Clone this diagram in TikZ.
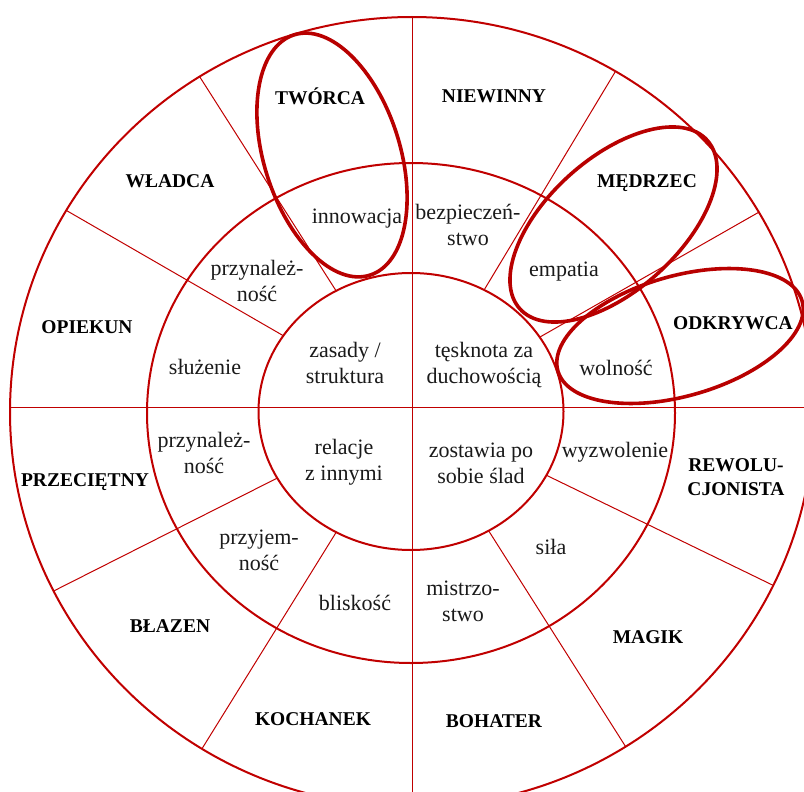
\documentclass[tikz,border=0pt]{standalone}
\usepackage{fontspec}
\setmainfont{Liberation Serif}
\definecolor{ring}{HTML}{C00000}
\definecolor{hl}{HTML}{B80000}
\definecolor{ink}{HTML}{1A1A1A}
\begin{document}
\begin{tikzpicture}[x=1pt,y=1pt,yscale=-1,
  ringline/.style={draw=ring,line width=2pt},
  spoke/.style={draw=ring,line width=1pt},
  axis/.style={draw=ring,line width=1.3pt},
  hlring/.style={draw=hl,line width=3.6pt},
  arch/.style={font=\fontsize{19.5}{24}\selectfont\bfseries,align=center,inner sep=0pt,text=black},
  word/.style={font=\fontsize{22}{26}\selectfont,align=center,inner sep=0pt,text=ink}]
\useasboundingbox (0,0) rectangle (804,792);
\clip (0,0) rectangle (804,792);
\coordinate (c) at (412,410);
% spokes
\begin{scope}
  \clip (412,412) ellipse [x radius=402, y radius=395];
  \foreach \a in {-122.5,-150,-59,-29.7,153.2,121.8,25.9,57.6}
    \draw[spoke] (c) -- ++(\a:520);
\end{scope}
\fill[white] (411,411.5) ellipse [x radius=152.5, y radius=138.5];
% axes
\draw[axis] (412.3,17) -- (412.3,792);
\draw[axis] (10,407.3) -- (804,407.3);
% rings
\draw[ringline] (412,412) ellipse [x radius=402, y radius=395];
\draw[ringline] (411,413) ellipse [x radius=264, y radius=250];
\draw[ringline] (411,411.5) ellipse [x radius=152.5, y radius=138.5];
% outer labels
\node[arch] (tworca) at (320,96) {TWÓRCA};
\node[arch] (niewinny) at (494,96) {NIEWINNY};
\node[arch] (wladca) at (170,181) {WŁADCA};
\node[arch] (medrzec) at (647,183) {MĘDRZEC};
\node[arch] (opiekun) at (87,327) {OPIEKUN};
\node[arch] (odkrywca) at (733,323) {ODKRYWCA};
\node[arch] (przecietny) at (85,482) {PRZECIĘTNY};
\node[arch] (rewol) at (736,477) {REWOLU-\\CJONISTA};
\node[arch] (blazen) at (170,626) {BŁAZEN};
\node[arch] (magik) at (648,637) {MAGIK};
\node[arch] (kochanek) at (313,719) {KOCHANEK};
\node[arch] (bohater) at (494,721) {BOHATER};
% middle labels
\node[word] (innow) at (357,219) {innowacja};
\node[word] (bezp) at (468,225) {bezpieczeń-\\stwo};
\node[word] (przyn1) at (257,281) {przynależ-\\ność};
\node[word] (empat) at (564,272) {empatia};
\node[word] (sluz) at (205,367) {służenie};
\node[word] (woln) at (616,368) {wolność};
\node[word] (przyn2) at (204,453) {przynależ-\\ność};
\node[word] (wyzw) at (615,452) {wyzwolenie};
\node[word] (przyj) at (259,550) {przyjem-\\ność};
\node[word] (sila) at (551,547) {siła};
\node[word] (blisk) at (355,603) {bliskość};
\node[word] (mistrz) at (463,601) {mistrzo-\\stwo};
% inner labels
\node[word] (zasady) at (345,363) {zasady /\\struktura};
\node[word] (tesk) at (484,365) {tęsknota za\\duchowością};
\node[word] (relac) at (344,462) {relacje\\z innymi};
\node[word] (zost) at (481,463) {zostawia po\\sobie ślad};
% highlight ellipses
\draw[hlring,rotate around={72.5:(332,155)}] (332,155) ellipse [x radius=126, y radius=68];
\draw[hlring,rotate around={-42:(613.5,224.5)}] (613.5,224.5) ellipse [x radius=126, y radius=66];
\draw[hlring,rotate around={-16:(680,336)}] (680,336) ellipse [x radius=127, y radius=60];
\end{tikzpicture}
\end{document}
